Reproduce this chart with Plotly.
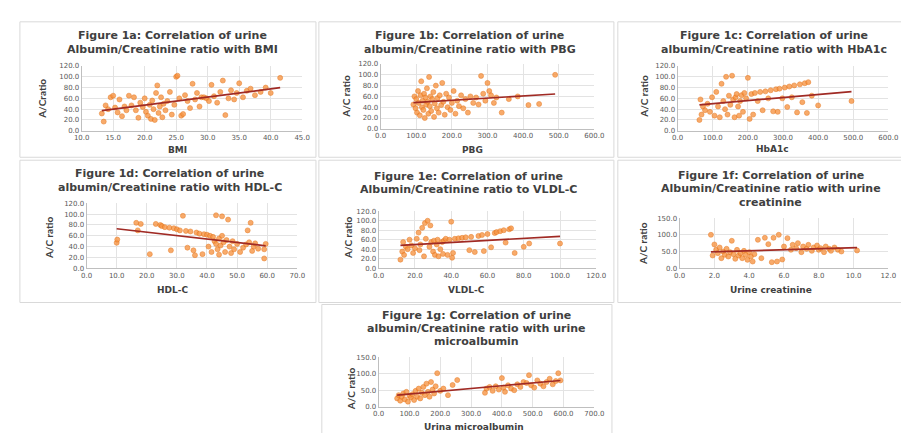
import numpy as np
import plotly.graph_objects as go

# ---------------- data ----------------
bmi_a = [13.2, 13.5, 13.8, 14.2, 14.6, 15.0, 15.3, 15.7, 16.0, 16.4, 16.8, 17.1, 17.5, 17.9, 18.3,
         18.6, 19.0, 19.3, 19.7, 20.0, 20.2, 20.5, 20.8, 21.0, 21.2, 21.4, 21.6, 21.8, 22.0, 22.2,
         22.4, 22.6, 22.8, 23.0, 23.3, 23.6, 24.0, 24.3, 24.7, 25.0, 25.2, 25.5, 25.8, 26.1, 26.4,
         26.8, 27.2, 27.6, 28.0, 28.3, 28.7, 29.0, 29.4, 29.8, 30.2, 30.6, 31.0, 31.5, 32.0, 32.4,
         32.8, 33.3, 33.7, 34.2, 34.6, 35.0, 35.6, 36.2, 36.8, 37.5, 38.4, 39.2, 40.0, 41.5]
acr_a = [32, 17, 47, 40, 62, 65, 43, 34, 58, 27, 45, 38, 65, 47, 62,
         38, 24, 52, 44, 60, 35, 28, 48, 22, 56, 40, 20, 70, 84, 33,
         45, 62, 25, 50, 38, 55, 72, 30, 48, 100, 102, 60, 28, 31, 66,
         55, 42, 87, 58, 70, 45, 62, 62, 60, 55, 85, 64, 52, 72, 93,
         29, 60, 75, 58, 70, 88, 62, 74, 78, 66, 72, 80, 70, 98]

pbg_b = [92, 95, 98, 100, 102, 105, 107, 110, 112, 114, 116, 118, 120, 122, 124,
         126, 128, 130, 132, 134, 136, 138, 140, 142, 145, 148, 150, 152, 155, 158,
         160, 163, 166, 170, 173, 176, 180, 184, 188, 192, 196, 200, 205, 210, 215,
         220, 226, 232, 238, 245, 252, 260, 268, 275, 282, 288, 294, 300, 305, 310,
         318, 325, 340, 360, 385, 415, 445, 490]
acr_b = [45, 60, 38, 55, 30, 70, 48, 25, 62, 88, 40, 52, 35, 65, 20,
         58, 45, 75, 50, 28, 96, 42, 60, 33, 55, 68, 22, 47, 80, 38,
         57, 30, 62, 44, 85, 50, 26, 65, 40, 58, 35, 48, 70, 28, 52,
         42, 62, 38, 55, 30, 60, 48, 58, 45, 98, 65, 52, 85, 70, 62,
         48, 58, 30, 55, 60, 44, 46, 100]

hba_c = [62, 65, 68, 72, 78, 85, 92, 98, 105, 110, 115, 120, 125, 130, 135,
         138, 142, 146, 150, 155, 158, 162, 165, 168, 172, 175, 178, 182, 186, 190,
         195, 200, 205, 210, 215, 220, 228, 235, 242, 250, 258, 265, 272, 280, 285,
         290, 298, 305, 312, 318, 325, 332, 340, 348, 355, 362, 368, 372, 382, 400, 495]
acr_c = [20, 58, 30, 45, 38, 50, 35, 62, 28, 72, 45, 25, 87, 55, 40,
         100, 30, 65, 48, 102, 58, 25, 62, 68, 45, 28, 55, 66, 35, 70,
         60, 98, 22, 68, 30, 70, 55, 72, 38, 73, 60, 75, 36, 77, 35,
         78, 60, 80, 44, 82, 62, 84, 34, 86, 53, 88, 33, 90, 65, 47, 55]

hdl_d = [10.0, 10.2, 16.5, 17.0, 18.0, 21.0, 23.0, 24.5, 25.0, 26.0, 27.5, 28.0, 29.0, 30.0, 31.0,
         32.0, 33.0, 33.5, 34.5, 35.5, 36.0, 36.5, 37.5, 38.5, 39.0, 40.0, 40.5, 41.0, 41.5, 42.0,
         42.5, 43.0, 43.0, 43.5, 44.0, 44.0, 44.5, 45.0, 45.0, 45.5, 46.0, 46.5, 47.0, 47.5, 48.0,
         48.5, 49.0, 50.0, 51.0, 52.0, 53.0, 53.5, 54.0, 54.5, 55.0, 55.5, 56.0, 57.0, 59.0, 59.0, 59.5]
acr_d = [47, 53, 84, 70, 82, 26, 82, 80, 78, 76, 75, 33, 74, 72, 70,
         97, 69, 38, 68, 33, 24, 66, 64, 26, 63, 62, 40, 60, 30, 58,
         50, 98, 45, 35, 55, 25, 42, 96, 60, 48, 30, 52, 90, 40, 28,
         50, 35, 45, 30, 38, 44, 70, 48, 84, 32, 40, 46, 36, 18, 35, 45]

vldl_e = [12, 13, 13.5, 14, 15, 16, 17, 18, 19, 20, 21, 22, 22.5, 23, 24,
          25, 25.5, 26, 27, 28, 28.5, 29, 30, 30.5, 31, 32, 32.5, 33, 34, 35,
          35.5, 36, 37, 38, 39, 40, 40.5, 41, 42, 44, 46, 48, 50, 51, 53,
          55, 57, 58, 60, 62, 64, 65, 67, 69, 70, 72, 73, 75, 80, 83, 100]
acr_e = [18, 35, 55, 28, 45, 40, 60, 48, 32, 42, 62, 75, 38, 50, 85,
         25, 95, 62, 100, 45, 90, 55, 35, 58, 28, 50, 60, 25, 40, 55,
         30, 58, 62, 28, 60, 98, 22, 32, 62, 63, 64, 65, 38, 66, 34,
         68, 70, 36, 72, 44, 74, 76, 78, 80, 54, 82, 84, 32, 45, 52, 52]

creat_f = [1.8, 1.9, 2.0, 2.1, 2.2, 2.3, 2.4, 2.5, 2.6, 2.7, 2.8, 2.9, 3.0, 3.1, 3.2,
           3.3, 3.4, 3.5, 3.6, 3.7, 3.8, 3.9, 4.0, 4.1, 4.2, 4.3, 4.5, 4.7, 4.9, 5.1,
           5.3, 5.4, 5.6, 5.7, 5.9, 6.0, 6.2, 6.4, 6.5, 6.7, 6.8, 7.0, 7.1, 7.3, 7.4,
           7.6, 7.7, 7.9, 8.0, 8.1, 8.3, 8.4, 8.6, 8.7, 8.9, 9.1, 9.3, 10.2]
acr_f = [100, 38, 71, 55, 45, 62, 30, 50, 40, 58, 35, 48, 82, 42, 28,
         55, 38, 45, 30, 52, 40, 25, 48, 35, 20, 42, 85, 30, 91, 72,
         18, 91, 20, 100, 26, 65, 90, 55, 70, 60, 75, 48, 65, 58, 70,
         52, 62, 68, 55, 60, 48, 65, 58, 52, 62, 55, 50, 53]

ma_g = [60, 65, 70, 75, 80, 85, 90, 95, 100, 105, 110, 115, 120, 125, 130,
        135, 140, 145, 150, 155, 160, 165, 170, 175, 180, 185, 190, 200, 210, 225,
        240, 255, 345, 350, 360, 370, 380, 390, 400, 405, 410, 420, 430, 440, 450,
        460, 470, 480, 488, 495, 505, 515, 525, 535, 545, 555, 565, 575, 583, 590]
acr_g = [25, 35, 18, 30, 40, 22, 45, 15, 33, 28, 38, 20, 48, 30, 55,
         25, 42, 60, 35, 70, 45, 30, 75, 52, 40, 62, 102, 48, 55, 35,
         66, 81, 42, 55, 60, 48, 62, 52, 87, 58, 45, 65, 55, 50, 68,
         60, 75, 72, 96, 65, 58, 80, 70, 62, 75, 85, 68, 78, 102, 80]

titles = [
    ["Figure 1a: Correlation of urine", "Albumin/Creatinine ratio with BMI"],
    ["Figure 1b: Correlation of urine", "albumin/Creatinine ratio with PBG"],
    ["Figure 1c: Correlation of urine", "albumin/Creatinine ratio with HbA1c"],
    ["Figure 1d: Correlation of urine", "albumin/Creatinine ratio with HDL-C"],
    ["Figure 1e: Correlation of urine", "Albumin/Creatinine ratio to VLDL-C"],
    ["Figure 1f: Correlation of urine", "Albumin/Creatinine ratio with urine", "creatinine"],
    ["Figure 1g: Correlation of urine", "albumin/Creatinine ratio with urine", "microalbumin"],
]
x_titles = ["BMI", "PBG", "HbA1c", "HDL-C", "VLDL-C", "Urine creatinine", "Urina microalbumin"]
y_titles = ["A/Cratio", "A/C ratio", "A/C ratio", "A/C ratio", "A/C ratio", "A/C ratio", "A/C ratio"]

# ---------------- layout (pixels) ----------------
W, H = 909, 433
def fx(p): return p / W
def fy(p): return 1 - p / H

panels = [
    dict(x=bmi_a, y=acr_a, xr=(10, 45), dx=5, yr=(0, 120), dy=20, dom=(67, 292, 55, 121),
         box=(4, 10, 306, 148), tx=160, tl=[24, 38], xtp=(165, 141), ytp=(27, 88)),
    dict(x=pbg_b, y=acr_b, xr=(0, 600), dx=100, yr=(0, 120), dy=20, dom=(372, 590, 53, 119),
         box=(309, 10, 610, 148), tx=463, tl=[24, 38], xtp=(466, 141), ytp=(337, 86)),
    dict(x=hba_c, y=acr_c, xr=(0, 600), dx=100, yr=(0, 120), dy=20, dom=(675, 890, 55, 121),
         box=(614, 10, 909, 148), tx=773, tl=[24, 38], xtp=(772, 140), ytp=(641, 86)),
    dict(x=hdl_d, y=acr_d, xr=(0, 70), dx=10, yr=(0, 120), dy=20, dom=(72, 287, 195, 261),
         box=(4, 151, 306, 296), tx=157, tl=[165, 179], xtp=(160, 283), ytp=(33, 230)),
    dict(x=vldl_e, y=acr_e, xr=(0, 120), dx=20, yr=(0, 120), dy=20, dom=(370, 592, 203, 261),
         box=(309, 151, 610, 296), tx=462, tl=[168, 181], xtp=(460, 283), ytp=(338, 230)),
    dict(x=creat_f, y=acr_f, xr=(0, 12), dx=2, yr=(0, 150), dy=50, dom=(677, 890, 210, 261),
         box=(614, 151, 909, 296), tx=770, tl=[167, 180, 194], xtp=(770, 283), ytp=(639, 236)),
    dict(x=ma_g, y=acr_g, xr=(0, 700), dx=100, yr=(0, 150), dy=50, dom=(370, 590, 352, 402),
         box=(312, 298, 608, 433), tx=470, tl=[309, 322, 336], xtp=(467, 423), ytp=(342, 384)),
]

FONT = "Lato, 'Open Sans', Arial, sans-serif"
TFONT = "'DejaVu Sans', Verdana, sans-serif"
MARK = "#F79646"
MARK_LINE = "#E46C0A"
TREND = "#A02A24"
GRID = "#E3E3E3"

fig = go.Figure()
layout = dict(width=W, height=H, margin=dict(l=0, r=0, t=0, b=0),
              paper_bgcolor="white", plot_bgcolor="white", showlegend=False,
              font=dict(family=FONT, color="#404040"))
annotations = []
shapes = []

for i, p in enumerate(panels):
    n = "" if i == 0 else str(i + 1)
    xa, ya = "x" + n, "y" + n
    x = np.array(p["x"], dtype=float)
    y = np.array(p["y"], dtype=float)
    fig.add_trace(go.Scatter(x=x, y=y, mode="markers", xaxis=xa, yaxis=ya,
                             marker=dict(size=5, color=MARK, opacity=0.8,
                                         line=dict(color=MARK_LINE, width=0.6)),
                             hoverinfo="x+y"))
    k, b = np.polyfit(x, y, 1)
    xs = np.array([x.min(), x.max()])
    fig.add_trace(go.Scatter(x=xs, y=k * xs + b, mode="lines", xaxis=xa, yaxis=ya,
                             line=dict(color=TREND, width=1.7), hoverinfo="skip"))
    x0, x1, y0, y1 = p["dom"]
    common = dict(showgrid=True, gridcolor=GRID, gridwidth=1,
                  showline=True, linecolor="#BFBFBF", linewidth=1,
                  zeroline=False, ticks="", fixedrange=True, tick0=0, tickformat=".1f",
                  tickfont=dict(size=7, color="#595959", family=TFONT))
    layout["xaxis" + n] = dict(domain=[fx(x0), fx(x1)], anchor=ya, range=list(p["xr"]),
                               dtick=p["dx"], **common)
    layout["yaxis" + n] = dict(domain=[fy(y1), fy(y0)], anchor=xa, range=list(p["yr"]),
                               dtick=p["dy"], **common)
    bx0, by0, bx1, by1 = p["box"]
    shapes.append(dict(type="rect", xref="paper", yref="paper",
                       x0=fx(bx0), x1=fx(bx1), y0=fy(by1), y1=fy(by0),
                       line=dict(color="#D9D9D9", width=1), fillcolor="rgba(0,0,0,0)", layer="below"))
    for line, ty in zip(titles[i], p["tl"]):
        annotations.append(dict(text="<b>" + line + "</b>", xref="paper", yref="paper",
                                x=fx(p["tx"]), y=fy(ty), xanchor="center", yanchor="middle",
                                showarrow=False,
                                font=dict(size=11, color="#404040", family=TFONT)))
    xx, xy = p["xtp"]
    annotations.append(dict(text="<b>" + x_titles[i] + "</b>", xref="paper", yref="paper",
                            x=fx(xx), y=fy(xy), xanchor="center", yanchor="middle",
                            showarrow=False, font=dict(size=9, color="#404040", family=TFONT)))
    yx, yy = p["ytp"]
    annotations.append(dict(text="<b>" + y_titles[i] + "</b>", xref="paper", yref="paper",
                            x=fx(yx), y=fy(yy), xanchor="center", yanchor="middle",
                            textangle=-90, showarrow=False,
                            font=dict(size=10, color="#404040", family=FONT)))

layout["annotations"] = annotations
layout["shapes"] = shapes
fig.update_layout(**layout)
fig.write_html("out.html")
